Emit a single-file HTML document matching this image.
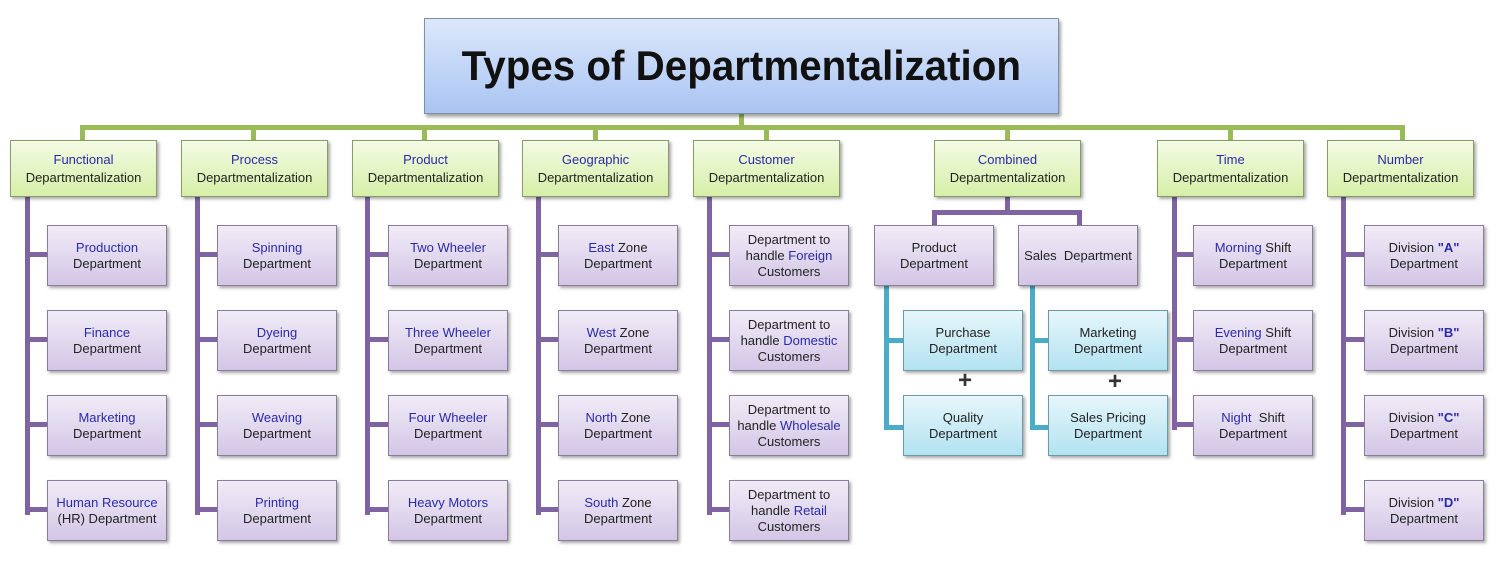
<!DOCTYPE html>
<html><head><meta charset="utf-8"><style>
body{margin:0;width:1498px;height:569px;background:#fff;position:relative;overflow:hidden;font-family:"Liberation Sans",sans-serif;}
div{position:absolute;box-sizing:border-box;}
.t{left:424px;top:18px;width:635px;height:96px;border:1px solid #7f8fa8;background:linear-gradient(#dce8fb,#a9c4f3);box-shadow:2px 3px 3px rgba(0,0,0,.35);display:flex;align-items:center;justify-content:center;}
.t span{font-size:42px;font-weight:bold;color:#111;transform:scaleX(.96);white-space:nowrap;display:inline-block;}
.g{height:57px;width:147px;top:140px;border:1px solid #8a9a6a;background:linear-gradient(#f4fbe4,#d6efa8);box-shadow:2px 2px 3px rgba(0,0,0,.35);display:flex;align-items:center;justify-content:center;text-align:center;font-size:13px;line-height:18px;color:#222;}
.p{width:120px;height:61px;border:1px solid #8a7c9a;background:linear-gradient(#f1ecf7,#d3c6e6);box-shadow:2px 2px 3px rgba(0,0,0,.35);display:flex;align-items:center;justify-content:center;text-align:center;font-size:13px;line-height:16px;color:#222;}
.c{width:120px;height:61px;border:1px solid #6d9aa6;background:linear-gradient(#e6f6fb,#b3e2f1);box-shadow:2px 2px 3px rgba(0,0,0,.35);display:flex;align-items:center;justify-content:center;text-align:center;font-size:13px;line-height:16px;color:#222;}
b{font-weight:normal;color:#2a2aaa;}
.gl{background:#9bbb59;}
.pl{background:#8064a2;}
.tl{background:#4bacc6;}
.plus{font-size:24px;font-weight:bold;color:#333;}
</style></head><body>
<div class="gl" style="left:739px;top:113px;width:5px;height:16px"></div>
<div class="gl" style="left:80px;top:125px;width:1325px;height:5px"></div>
<div class="gl" style="left:80px;top:125px;width:5px;height:16px"></div>
<div class="gl" style="left:251px;top:125px;width:5px;height:16px"></div>
<div class="gl" style="left:422px;top:125px;width:5px;height:16px"></div>
<div class="gl" style="left:593px;top:125px;width:5px;height:16px"></div>
<div class="gl" style="left:764px;top:125px;width:5px;height:16px"></div>
<div class="gl" style="left:1005px;top:125px;width:5px;height:16px"></div>
<div class="gl" style="left:1228px;top:125px;width:5px;height:16px"></div>
<div class="gl" style="left:1400px;top:125px;width:5px;height:16px"></div>

<div class="t"><span>Types of Departmentalization</span></div>

<div class="pl" style="left:25px;top:197px;width:5px;height:318px"></div>
<div class="pl" style="left:195px;top:197px;width:5px;height:318px"></div>
<div class="pl" style="left:365px;top:197px;width:5px;height:318px"></div>
<div class="pl" style="left:536px;top:197px;width:5px;height:318px"></div>
<div class="pl" style="left:707px;top:197px;width:5px;height:318px"></div>
<div class="pl" style="left:1172px;top:197px;width:5px;height:233px"></div>
<div class="pl" style="left:1341px;top:197px;width:5px;height:318px"></div>
<div class="pl" style="left:25px;top:252px;width:24px;height:5px"></div>
<div class="pl" style="left:25px;top:337px;width:24px;height:5px"></div>
<div class="pl" style="left:25px;top:422px;width:24px;height:5px"></div>
<div class="pl" style="left:25px;top:507px;width:24px;height:5px"></div>
<div class="pl" style="left:195px;top:252px;width:24px;height:5px"></div>
<div class="pl" style="left:195px;top:337px;width:24px;height:5px"></div>
<div class="pl" style="left:195px;top:422px;width:24px;height:5px"></div>
<div class="pl" style="left:195px;top:507px;width:24px;height:5px"></div>
<div class="pl" style="left:365px;top:252px;width:24px;height:5px"></div>
<div class="pl" style="left:365px;top:337px;width:24px;height:5px"></div>
<div class="pl" style="left:365px;top:422px;width:24px;height:5px"></div>
<div class="pl" style="left:365px;top:507px;width:24px;height:5px"></div>
<div class="pl" style="left:536px;top:252px;width:24px;height:5px"></div>
<div class="pl" style="left:536px;top:337px;width:24px;height:5px"></div>
<div class="pl" style="left:536px;top:422px;width:24px;height:5px"></div>
<div class="pl" style="left:536px;top:507px;width:24px;height:5px"></div>
<div class="pl" style="left:707px;top:252px;width:24px;height:5px"></div>
<div class="pl" style="left:707px;top:337px;width:24px;height:5px"></div>
<div class="pl" style="left:707px;top:422px;width:24px;height:5px"></div>
<div class="pl" style="left:707px;top:507px;width:24px;height:5px"></div>
<div class="pl" style="left:1172px;top:252px;width:24px;height:5px"></div>
<div class="pl" style="left:1172px;top:337px;width:24px;height:5px"></div>
<div class="pl" style="left:1172px;top:422px;width:24px;height:5px"></div>
<div class="pl" style="left:1341px;top:252px;width:24px;height:5px"></div>
<div class="pl" style="left:1341px;top:337px;width:24px;height:5px"></div>
<div class="pl" style="left:1341px;top:422px;width:24px;height:5px"></div>
<div class="pl" style="left:1341px;top:507px;width:24px;height:5px"></div>
<div class="pl" style="left:1005px;top:197px;width:5px;height:17px"></div>
<div class="pl" style="left:932px;top:210px;width:150px;height:5px"></div>
<div class="pl" style="left:932px;top:210px;width:5px;height:16px"></div>
<div class="pl" style="left:1077px;top:210px;width:5px;height:16px"></div>
<div class="tl" style="left:884px;top:285px;width:5px;height:145px"></div>
<div class="tl" style="left:884px;top:338px;width:20px;height:5px"></div>
<div class="tl" style="left:884px;top:425px;width:20px;height:5px"></div>
<div class="tl" style="left:1030px;top:285px;width:5px;height:145px"></div>
<div class="tl" style="left:1030px;top:338px;width:20px;height:5px"></div>
<div class="tl" style="left:1030px;top:425px;width:20px;height:5px"></div>

<div class="g" style="left:10px"><span><b>Functional</b><br>Departmentalization</span></div>
<div class="g" style="left:181px"><span><b>Process</b><br>Departmentalization</span></div>
<div class="g" style="left:352px"><span><b>Product</b><br>Departmentalization</span></div>
<div class="g" style="left:522px"><span><b>Geographic</b><br>Departmentalization</span></div>
<div class="g" style="left:693px"><span><b>Customer</b><br>Departmentalization</span></div>
<div class="g" style="left:934px"><span><b>Combined</b><br>Departmentalization</span></div>
<div class="g" style="left:1157px"><span><b>Time</b><br>Departmentalization</span></div>
<div class="g" style="left:1327px"><span><b>Number</b><br>Departmentalization</span></div>

<div class="p" style="left:47px;top:225px"><span><b>Production</b><br>Department</span></div>
<div class="p" style="left:47px;top:310px"><span><b>Finance</b><br>Department</span></div>
<div class="p" style="left:47px;top:395px"><span><b>Marketing</b><br>Department</span></div>
<div class="p" style="left:47px;top:480px"><span><b>Human Resource</b><br>(HR) Department</span></div>
<div class="p" style="left:217px;top:225px"><span><b>Spinning</b><br>Department</span></div>
<div class="p" style="left:217px;top:310px"><span><b>Dyeing</b><br>Department</span></div>
<div class="p" style="left:217px;top:395px"><span><b>Weaving</b><br>Department</span></div>
<div class="p" style="left:217px;top:480px"><span><b>Printing</b><br>Department</span></div>
<div class="p" style="left:388px;top:225px"><span><b>Two Wheeler</b><br>Department</span></div>
<div class="p" style="left:388px;top:310px"><span><b>Three Wheeler</b><br>Department</span></div>
<div class="p" style="left:388px;top:395px"><span><b>Four Wheeler</b><br>Department</span></div>
<div class="p" style="left:388px;top:480px"><span><b>Heavy Motors</b><br>Department</span></div>
<div class="p" style="left:558px;top:225px"><span><b>East</b> Zone<br>Department</span></div>
<div class="p" style="left:558px;top:310px"><span><b>West</b> Zone<br>Department</span></div>
<div class="p" style="left:558px;top:395px"><span><b>North</b> Zone<br>Department</span></div>
<div class="p" style="left:558px;top:480px"><span><b>South</b> Zone<br>Department</span></div>
<div class="p" style="left:729px;top:225px"><span>Department to<br>handle <b>Foreign</b><br>Customers</span></div>
<div class="p" style="left:729px;top:310px"><span>Department to<br>handle <b>Domestic</b><br>Customers</span></div>
<div class="p" style="left:729px;top:395px"><span>Department to<br>handle <b>Wholesale</b><br>Customers</span></div>
<div class="p" style="left:729px;top:480px"><span>Department to<br>handle <b>Retail</b><br>Customers</span></div>
<div class="p" style="left:874px;top:225px"><span>Product<br>Department</span></div>
<div class="p" style="left:1018px;top:225px"><span>Sales&nbsp; Department</span></div>
<div class="c" style="left:903px;top:310px"><span>Purchase<br>Department</span></div>
<div class="c" style="left:903px;top:395px"><span>Quality<br>Department</span></div>
<div class="c" style="left:1048px;top:310px"><span>Marketing<br>Department</span></div>
<div class="c" style="left:1048px;top:395px"><span>Sales Pricing<br>Department</span></div>
<div class="plus" style="left:958px;top:367px">+</div>
<div class="plus" style="left:1108px;top:368px">+</div>
<div class="p" style="left:1193px;top:225px"><span><b>Morning</b> Shift<br>Department</span></div>
<div class="p" style="left:1193px;top:310px"><span><b>Evening</b> Shift<br>Department</span></div>
<div class="p" style="left:1193px;top:395px"><span><b>Night</b>&nbsp; Shift<br>Department</span></div>
<div class="p" style="left:1364px;top:225px"><span>Division <b style="font-weight:bold">"A"</b><br>Department</span></div>
<div class="p" style="left:1364px;top:310px"><span>Division <b style="font-weight:bold">"B"</b><br>Department</span></div>
<div class="p" style="left:1364px;top:395px"><span>Division <b style="font-weight:bold">"C"</b><br>Department</span></div>
<div class="p" style="left:1364px;top:480px"><span>Division <b style="font-weight:bold">"D"</b><br>Department</span></div>
</body></html>
